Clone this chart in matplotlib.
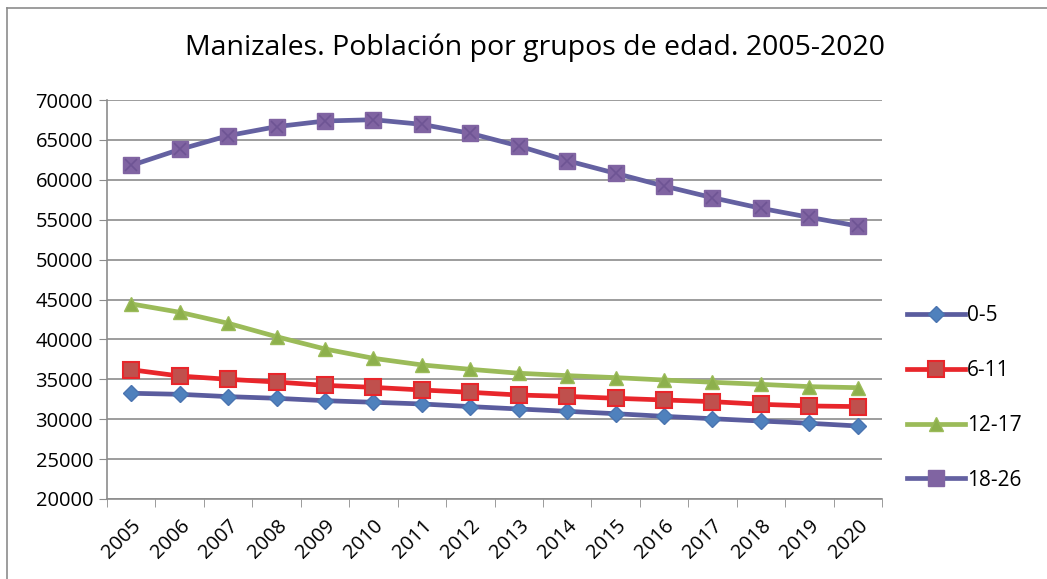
import matplotlib
matplotlib.use("Agg")
import matplotlib.pyplot as plt
from matplotlib.lines import Line2D

years = [str(y) for y in range(2005, 2021)]
g0_5 = [33250, 33120, 32830, 32620, 32320, 32120, 31910, 31580,
        31280, 30990, 30690, 30360, 30060, 29770, 29490, 29150]
g6_11 = [36200, 35410, 35000, 34660, 34240, 33990, 33660, 33370,
         33030, 32860, 32620, 32410, 32200, 31870, 31660, 31580]
g12_17 = [44450, 43400, 42020, 40340, 38800, 37630, 36800, 36250,
          35760, 35460, 35210, 34910, 34630, 34370, 34080, 33950]
g18_26 = [61800, 63800, 65530, 66660, 67370, 67530, 66950, 65820,
          64240, 62400, 60810, 59220, 57760, 56430, 55300, 54210]
labels = ["0-5", "6-11", "12-17", "18-26"]
yticks = list(range(20000, 70001, 5000))

plt.rcParams['font.family'] = ['Open Sans', 'DejaVu Sans']

fig = plt.figure(figsize=(10.47, 5.79), dpi=100)
ax = fig.add_axes([107/1047, 1-499/579, 775/1047, 399/579])

x = list(range(len(years)))
series = [
    (g0_5, dict(color="#5A5C9E", marker="D", markersize=8, markerfacecolor="#4F81BD",
                markeredgecolor="#4A74B0", markeredgewidth=1)),
    (g6_11, dict(color="#E8262B", marker="s", markersize=11, markerfacecolor="#C0504D",
                 markeredgecolor="#E8262B", markeredgewidth=1.5)),
    (g12_17, dict(color="#9BBB59", marker="^", markersize=10, markerfacecolor="#8DB04C",
                  markeredgecolor="#9BBB59", markeredgewidth=1)),
]
handles = []
for (vals, st), lab in zip(series, labels[:3]):
    ax.plot(x, vals, lw=3.4, zorder=3, solid_capstyle='round', **st)
    handles.append(Line2D([], [], lw=3.4, **st))

ax.plot(x, g18_26, color="#6461A1", lw=3.4, zorder=3, solid_capstyle='round')
ax.plot(x, g18_26, ls='none', marker="s", markersize=11.5, markerfacecolor="#8064A2",
        markeredgecolor="#8064A2", zorder=4)
ax.plot(x, g18_26, ls='none', marker="x", markersize=8.5, markeredgecolor="#6E5494",
        markeredgewidth=1.2, zorder=5)
handles.append(Line2D([], [], color="#6461A1", lw=3.4, marker="s", markersize=11.5,
                      markerfacecolor="#8064A2", markeredgecolor="#8064A2"))

ax.set_xlim(-0.5, len(years) - 0.5)
ax.set_ylim(20000, 70000)
ax.set_yticks(yticks)
ax.set_yticklabels([str(v) for v in yticks], fontsize=14.5)
ax.grid(axis='y', color="#8C8C8C", lw=1.2)
ax.set_axisbelow(True)
ax.set_xticks(x)
ax.set_xticklabels(years, rotation=45, fontsize=14.5, ha='right', rotation_mode='anchor')
ax.set_xticks([i - 0.5 for i in range(len(years) + 1)], minor=True)
ax.tick_params(axis='x', which='major', length=0, pad=12)
ax.tick_params(axis='x', which='minor', length=6, color="#8C8C8C")
ax.tick_params(axis='y', length=6, color="#8C8C8C", direction='out', pad=4)
for s in ["top", "right"]:
    ax.spines[s].set_visible(False)
for s in ["left", "bottom"]:
    ax.spines[s].set_color("#8C8C8C")
    ax.spines[s].set_linewidth(1.2)

fig.text(535/1047, 1-48/579, "Manizales. Población por grupos de edad. 2005-2020",
         ha='center', va='center', fontsize=20.5)

leg = fig.legend(handles, labels, loc='center left', bbox_to_anchor=(888/1047, 1-398/579),
                 frameon=False, fontsize=15, labelspacing=1.62, handlelength=2.8,
                 handletextpad=0.1)

fig.add_artist(Line2D([7/1047, 7/1047], [0, 1-8/579], color="#8C8C8C", lw=1.2))
fig.add_artist(Line2D([7/1047, 1], [1-8/579, 1-8/579], color="#8C8C8C", lw=1.2))

fig.savefig("out.png", dpi=100)
